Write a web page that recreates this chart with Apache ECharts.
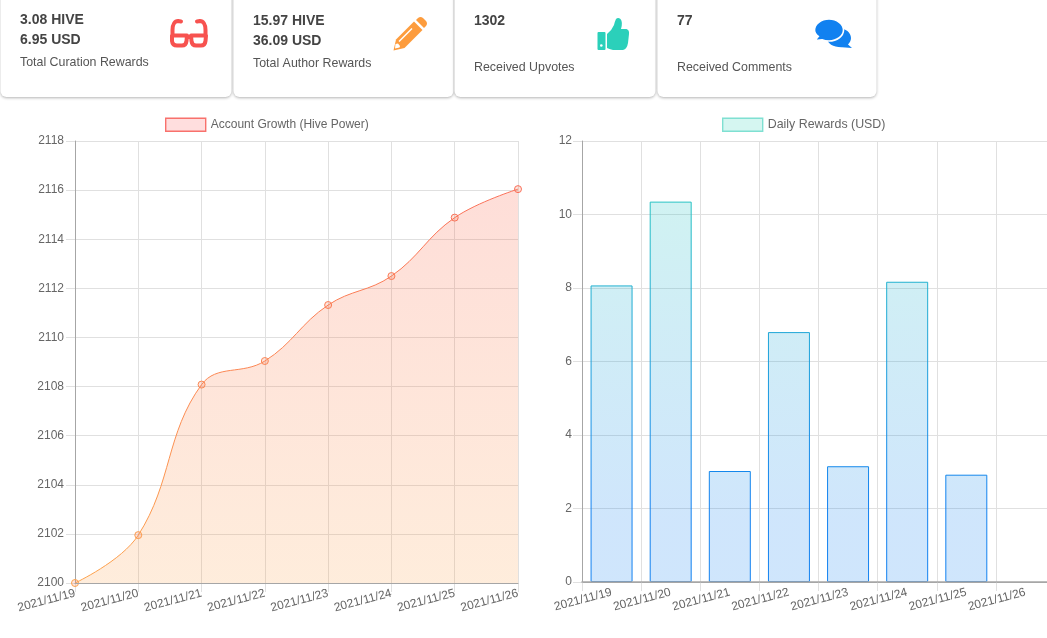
<!DOCTYPE html>
<html><head><meta charset="utf-8">
<style>html,body{margin:0;padding:0;background:#fff;overflow:hidden;width:1047px;height:638px}#c{width:1060px;height:638px}</style>
<script src="https://cdn.jsdelivr.net/npm/echarts@6/dist/echarts.min.js"></script>
</head><body><div id="c"></div>
<script>
const growthDates = ['2021/11/19','2021/11/20','2021/11/21','2021/11/22','2021/11/23','2021/11/24','2021/11/25','2021/11/26'];
const growthValues = [2100, 2101.95, 2108.08, 2109.04, 2111.32, 2112.5, 2114.88, 2116.04];
const rewardDates = ['2021/11/19','2021/11/20','2021/11/21','2021/11/22','2021/11/23','2021/11/24','2021/11/25','2021/11/26'];
const rewardValues = [8.07, 10.35, 3.02, 6.8, 3.15, 8.17, 2.92, null];
const growthName = 'Account Growth (Hive Power)';
const rewardName = 'Daily Rewards (USD)';
const cardBoxes = [[0,232],[233,454],[454,656],[657,877]];
const cardLines = [
  [['3.08 HIVE',20,20],['6.95 USD',20,40]],
  [['15.97 HIVE',253,21],['36.09 USD',253,41]],
  [['1302',474,21]],
  [['77',677,21]]
];
const cardCaptions = [['Total Curation Rewards',20,63],['Total Author Rewards',253,64],['Received Upvotes',474,68],['Received Comments',677,68]];

const FONT = '"Liberation Sans", Arial, sans-serif';
const plotTop = 141, plotBottom = 583;
const vGrad = (a, b, y2) => ({type:'linear', x:0, y:plotTop, x2:0, y2:y2 || plotBottom, global:true,
  colorStops:[{offset:0,color:a},{offset:1,color:b}]});
const mix = (t) => {
  const A=[250,110,90], B=[252,163,78];
  return 'rgb('+A.map((v,i)=>Math.round(v+(B[i]-v)*t)).join(',')+')';
};
const yPos = v => (v-2100)/18;

const icons = {
  iconGlasses:'M172.5 36 L172.5 30 C172.5 24 175 21 178 21 L181 21.5 M205.5 36 L205.5 30 C205.5 24 203 21 200 21 L197 21.5 M172 35.5 L187 35.5 L186.5 41 Q186 45.5 182 45.5 L177 45.5 Q172.5 45.5 172 41 Z M191 35.5 L206 35.5 L205.5 41 Q205 45.5 201 45.5 L196 45.5 Q192 45.5 191.5 41 Z M186.5 37 L191.5 37',
  iconEraser:'M416 20 L418 18 Q420.5 16 423 18 L426 21 Q428 23.5 426 26 L424 28 Z',
  iconThumb:'M607 34 Q612 30 614 25 Q615 21 616 19 Q618 17 620.5 19 Q623 22 621 29 L626.5 29 Q629.5 30 629 34 L628 43 Q627 49 623 50 L613 50 Q609 49 607 48 Z',
  iconBubbleBack:'M827 38 C827 32.6 832.4 28.3 839 28.3 C845.6 28.3 851 32.6 851 38 C851 40.5 849.8 42.8 848 44.5 L852 48 L842 47.3 C833.5 47.5 827 43.4 827 38 Z',
  iconBubbleFront:'M814.5 30 C814.5 24 821 19 829 19 C837 19 843.5 24 843.5 30 C843.5 36 837 41 829 41 C826.5 41 824 40.5 822 39.7 L815 40.5 L818.3 36.5 C815.9 34.7 814.5 32.5 814.5 30 Z'
};
Object.keys(icons).forEach(k => echarts.graphic.registerShape(k, echarts.graphic.extendPath(icons[k], {})));

const g = [];
cardBoxes.forEach(b => g.push({type:'rect', z:1, shape:{x:b[0]+0.5,y:-20,width:b[1]-b[0]-1,height:117,r:6},
  style:{fill:'#fff',shadowColor:'rgba(0,0,0,0.3)',shadowBlur:3,shadowOffsetY:1}}));
cardLines.flat().forEach(t => g.push({type:'text', z:3, x:t[1], y:t[2],
  style:{text:t[0], font:'bold 14px '+FONT, fill:'#444', verticalAlign:'middle'}}));
cardCaptions.forEach(t => g.push({type:'text', z:3, x:t[1], y:t[2],
  style:{text:t[0], font:'12.4px '+FONT, fill:'#555', verticalAlign:'middle'}}));

const red='#f7524f', orange='#fd9c3d', teal='#2bd0ba', blue='#1181f0';
g.push({type:'iconGlasses', z:3, style:{fill:'none',stroke:red,lineWidth:4,lineJoin:'round',lineCap:'round'}});
g.push({type:'polygon', z:3, shape:{points:[[396,39.5],[414,21.5],[422.5,30],[404.5,48],[393.5,50.5]]}, style:{fill:orange}});
g.push({type:'iconEraser', z:3, style:{fill:orange}});
g.push({type:'line', z:4, shape:{x1:399,y1:41.5,x2:412,y2:28.5}, style:{stroke:'#fff',lineWidth:1.4}});
g.push({type:'polygon', z:4, shape:{points:[[395.5,44],[398,43.5],[400,46],[399.5,47.5],[395,48.5]]}, style:{fill:'#fff'}});
g.push({type:'rect', z:3, shape:{x:597.5,y:32,width:8,height:18,r:1}, style:{fill:teal}});
g.push({type:'circle', z:4, shape:{cx:601.3,cy:45.5,r:1.3}, style:{fill:'#fff'}});
g.push({type:'iconThumb', z:3, style:{fill:teal}});
g.push({type:'iconBubbleBack', z:3, style:{fill:blue}});
g.push({type:'iconBubbleFront', z:4, style:{fill:blue,stroke:'#fff',lineWidth:1.6}});

const gridLine = {show:true, lineStyle:{color:'#e0e0e0', width:1}};
const axisLine = {show:true, onZero:false, lineStyle:{color:'#a6a6a6', width:1}};
const tick = {show:true, length:9, lineStyle:{color:'#e0e0e0'}};
const label = {color:'#666', fontSize:12, fontFamily:FONT};

const option = {
  animation:false,
  backgroundColor:'#fff',
  graphic:g,
  legend:[
    {left:165, top:117.5, itemWidth:40, itemHeight:13, selectedMode:false, padding:0,
     textStyle:{color:'#666',fontSize:12,fontFamily:FONT},
     data:[{name:growthName, icon:'rect', itemStyle:{color:'rgba(255,90,90,0.2)',borderColor:'#f8716c',borderWidth:1.4}}]},
    {left:722, top:117.5, itemWidth:40, itemHeight:13, selectedMode:false, padding:0,
     textStyle:{color:'#666',fontSize:12.4,fontFamily:FONT},
     data:[{name:rewardName, icon:'rect', itemStyle:{color:'rgba(43,208,186,0.2)',borderColor:'#7fe0d2',borderWidth:1.4}}]}
  ],
  grid:[
    {left:75, top:plotTop, width:443, height:442},
    {left:582, top:plotTop, width:473, height:441}
  ],
  xAxis:[
    {type:'category', gridIndex:0, data:growthDates, boundaryGap:false, axisLine, axisTick:tick, splitLine:gridLine,
     axisLabel:{...label, rotate:15, interval:0, margin:10, hideOverlap:false}},
    {type:'category', gridIndex:1, position:'bottom', data:rewardDates, boundaryGap:true, axisLine, axisTick:tick, splitLine:{...gridLine, interval:0},
     axisLabel:{...label, rotate:15, interval:0, margin:10, hideOverlap:false}},
    {type:'category', gridIndex:0, position:'bottom', z:5, data:growthDates, boundaryGap:false, axisLine, axisTick:{show:false}, axisLabel:{show:false}, splitLine:{show:false}},
    {type:'category', gridIndex:1, position:'bottom', z:5, data:rewardDates, boundaryGap:true, axisLine:{...axisLine, lineStyle:{color:'#a6a6a6', width:1.6}}, axisTick:{show:false}, axisLabel:{show:false}, splitLine:{show:false}}
  ],
  yAxis:[
    {type:'value', gridIndex:0, min:2100, max:2118, interval:2, axisLine, axisTick:tick, splitLine:gridLine, axisLabel:{...label, margin:11, formatter:v => String(v)}},
    {type:'value', gridIndex:1, min:0, max:12, interval:2, axisLine, axisTick:tick, splitLine:gridLine, axisLabel:{...label, margin:10}}
  ],
  series:[
    {name:growthName, type:'line', xAxisIndex:0, yAxisIndex:0, smooth:0.4, symbol:'circle', symbolSize:7, showSymbol:true, z:3,
     lineStyle:{width:1, color:vGrad('rgb(250,105,90)','rgb(252,163,78)')},
     areaStyle:{opacity:1, color:vGrad('rgba(250,80,60,0.2)','rgba(252,163,78,0.2)'), origin:'start'},
     data:growthValues.map(v => ({value:v, itemStyle:{color:'rgba(252,120,80,0.2)', borderColor:mix(Math.max(0,1-yPos(v)*1.1)), borderWidth:1}}))},
    {name:rewardName, type:'bar', xAxisIndex:1, yAxisIndex:1, barWidth:'71%', z:3,
     itemStyle:{color:vGrad('rgba(43,208,186,0.22)','rgba(17,129,240,0.2)',520), borderColor:vGrad('#2bd0ba','#1181f0',500), borderWidth:1},
     data:rewardValues}
  ]
};
const chart = echarts.init(document.getElementById('c'), null, {renderer:'canvas'});
chart.setOption(option);
</script></body></html>
